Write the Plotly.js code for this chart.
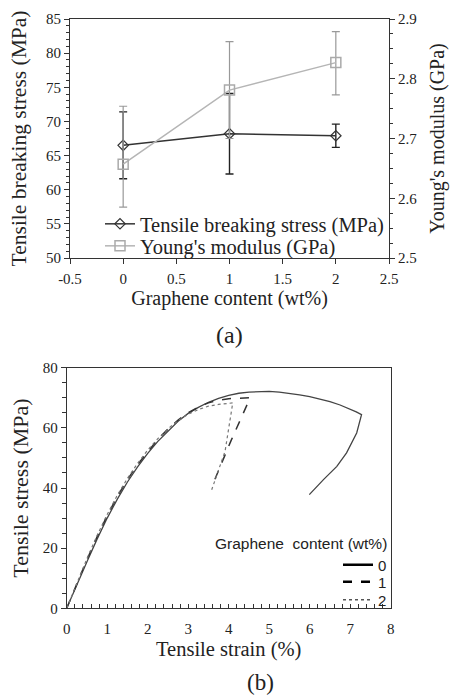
<!DOCTYPE html>
<html>
<head>
<meta charset="utf-8">
<script src="https://cdn.plot.ly/plotly-3.0.1.min.js"></script>
<style>html,body{margin:0;padding:0;background:#fff;}#chart{width:450px;height:696px;}</style>
</head>
<body>
<div id="chart"></div>
<script>
// ---- (a) data ----
const content = [0, 1, 2];
const contentTicks = [-0.5, 0, 0.5, 1, 1.5, 2, 2.5];
const contentTickLabels = ['-0.5', '0', '0.5', '1', '1.5', '2', '2.5'];
const breakingStress = [66.5, 68.2, 67.9];
const breakingStressErr = [4.9, 5.9, 1.7];
const youngsModulus = [2.657, 2.781, 2.827];
const youngsModulusErrPlus = [0.097, 0.081, 0.052];
const youngsModulusErrMinus = [0.072, 0.081, 0.054];

// ---- (b) data ----
const strain0 = [0,0.25,0.5,0.75,1,1.25,1.5,1.75,2,2.25,2.5,2.75,3,3.25,3.5,3.75,4,4.25,4.5,4.75,5,5.25,5.5,5.75,6,6.25,6.5,6.75,7,7.15,7.28,7.16,6.91,6.67,6.34,5.99];
const stress0 = [0,8,15.5,23,30,36.3,42,47,51.5,55.5,59,62.2,64.8,66.8,68.5,69.8,70.8,71.5,71.9,72.1,72.1,71.9,71.5,71,70.4,69.6,68.7,67.6,66.3,65.3,64.4,58.3,51.7,47.2,42.8,37.8];
const strain1 = [0,0.25,0.5,0.75,1,1.25,1.5,1.75,2,2.25,2.5,2.75,3,3.25,3.5,3.75,4,4.25,4.53,4.05,3.6];
const stress1 = [0,8.3,16.2,23.8,30.8,37.2,42.8,47.8,52.2,56.2,59.6,62.6,65,66.9,68.3,69.2,69.7,69.9,70,55.5,41];
const strain2 = [0,0.25,0.5,0.75,1,1.25,1.5,1.75,2,2.25,2.5,2.75,3,3.25,3.5,3.75,4.1,3.91,3.58];
const stress2 = [0,8.5,16.5,24.2,31.2,37.6,43.2,48.2,52.6,56.4,59.7,62.4,64.5,66.1,67.2,67.8,68.3,52.2,39.4];
const legendLabels = ['0', '1', '2'];

const serif = 'Liberation Serif';
const sans = 'Liberation Sans';
const axisColor = '#333';
const txt = '#222';

const traces = [
  {x: content, y: youngsModulus, yaxis: 'y2', xaxis: 'x', type: 'scatter', mode: 'lines+markers',
   name: "Young's modulus (GPa)", legend: 'legend3',
   line: {color: '#b5b5b5', width: 1.5},
   marker: {symbol: 'square-open', size: 10, color: '#aaaaaa', line: {width: 1.5}},
   error_y: {type: 'data', symmetric: false, array: youngsModulusErrPlus, arrayminus: youngsModulusErrMinus,
             color: '#999', thickness: 1.2, width: 4}},
  {x: content, y: breakingStress, xaxis: 'x', yaxis: 'y', type: 'scatter', mode: 'lines+markers',
   name: 'Tensile breaking stress (MPa)', legend: 'legend',
   line: {color: '#333', width: 1.5},
   marker: {symbol: 'diamond-open', size: 8, color: '#333', line: {width: 1.2}},
   error_y: {type: 'data', array: breakingStressErr, color: '#222', thickness: 1.4, width: 4}},
  {x: strain0, y: stress0, xaxis: 'x2', yaxis: 'y3', type: 'scatter', mode: 'lines', showlegend: false,
   line: {color: '#444', width: 1.3}},
  {x: strain1, y: stress1, xaxis: 'x2', yaxis: 'y3', type: 'scatter', mode: 'lines', showlegend: false,
   line: {color: '#333', width: 1.5, dash: 'dash'}},
  {x: strain2, y: stress2, xaxis: 'x2', yaxis: 'y3', type: 'scatter', mode: 'lines', showlegend: false,
   line: {color: '#777', width: 1.2, dash: 'dot'}},
  {x: [null], y: [null], xaxis: 'x2', yaxis: 'y3', type: 'scatter', mode: 'lines', name: legendLabels[0], legend: 'legend2',
   line: {color: '#000', width: 2.5}},
  {x: [null], y: [null], xaxis: 'x2', yaxis: 'y3', type: 'scatter', mode: 'lines', name: legendLabels[1], legend: 'legend4',
   line: {color: '#000', width: 2.5, dash: 'dash'}},
  {x: [null], y: [null], xaxis: 'x2', yaxis: 'y3', type: 'scatter', mode: 'lines', name: legendLabels[2], legend: 'legend5',
   line: {color: '#555', width: 1.5, dash: 'dot'}}
];

const W = 450, H = 696;
const px = v => v / W;
const py = v => 1 - v / H;

function leg(x, y, anchor, font) {
  return {x: px(x), y: py(y), xanchor: anchor, yanchor: 'middle', bgcolor: 'rgba(0,0,0,0)',
          font: font, borderwidth: 0, itemwidth: 30};
}
const topLegFont = {family: serif, size: 20.5, color: txt};
const botLegFont = {family: sans, size: 15, color: txt};

const layout = {
  width: W, height: H,
  margin: {l: 0, r: 0, t: 0, b: 0},
  paper_bgcolor: '#fff', plot_bgcolor: '#fff',
  font: {family: serif, color: txt},
  xaxis: {domain: [px(70), px(389)], anchor: 'y', range: [-0.5, 2.5],
    tickmode: 'array', tickvals: contentTicks, ticktext: contentTickLabels,
    showgrid: false, zeroline: false, showline: true, linecolor: axisColor, linewidth: 1, mirror: true,
    ticks: 'outside', ticklen: 5, tickcolor: axisColor, ticklabelstandoff: 2,
    tickfont: {family: serif, size: 15, color: txt},
    title: {text: 'Graphene content (wt%)', font: {family: serif, size: 20, color: txt}, standoff: 4}},
  yaxis: {domain: [py(258), py(19)], anchor: 'x', range: [50, 85], dtick: 5,
    showgrid: false, zeroline: false, showline: true, linecolor: axisColor, linewidth: 1,
    ticks: 'outside', ticklen: 5, tickcolor: axisColor, tickfont: {family: serif, size: 15, color: txt},
    minor: {dtick: 1, ticks: 'outside', ticklen: 3, tickcolor: axisColor},
    title: {text: 'Tensile breaking stress (MPa)', font: {family: serif, size: 21.5, color: txt}, standoff: 13}},
  yaxis2: {overlaying: 'y', side: 'right', anchor: 'x', range: [2.5, 2.9], dtick: 0.1, tickformat: '.1f',
    showgrid: false, zeroline: false, showline: true, linecolor: axisColor, linewidth: 1,
    ticks: 'outside', ticklen: 5, tickcolor: axisColor, tickfont: {family: serif, size: 15, color: txt},
    minor: {dtick: 0.025, ticks: 'outside', ticklen: 3, tickcolor: axisColor},
    title: {text: "Young's modulus (GPa)", font: {family: serif, size: 20, color: txt}, standoff: 13}},
  xaxis2: {domain: [px(66.7), px(390.7)], anchor: 'y3', range: [0, 8], dtick: 1,
    showgrid: false, zeroline: false, showline: true, linecolor: axisColor, linewidth: 1, mirror: true,
    ticks: 'inside', ticklen: 4, tickcolor: axisColor, ticklabelstandoff: 7,
    tickfont: {family: serif, size: 15, color: txt},
    minor: {dtick: 0.2, ticks: 'inside', ticklen: 4, tickcolor: axisColor},
    title: {text: 'Tensile strain (%)', font: {family: serif, size: 20.5, color: txt}, standoff: 5}},
  yaxis3: {domain: [py(608.3), py(367.7)], anchor: 'x2', range: [0, 80], dtick: 20,
    showgrid: false, zeroline: false, showline: true, linecolor: axisColor, linewidth: 1, mirror: true,
    ticks: 'outside', ticklen: 5, tickcolor: axisColor, tickfont: {family: serif, size: 15, color: txt},
    minor: {dtick: 5, ticks: 'outside', ticklen: 4, tickcolor: axisColor},
    title: {text: 'Tensile stress (MPa)', font: {family: serif, size: 22, color: txt}, standoff: 8}},
  legend: leg(100, 224, 'left', topLegFont),
  legend3: leg(100, 246, 'left', topLegFont),
  legend2: leg(392, 565, 'right', botLegFont),
  legend4: leg(392, 582, 'right', botLegFont),
  legend5: leg(392, 600, 'right', botLegFont),
  showlegend: true,
  annotations: [
    {text: 'Graphene  content (wt%)', xref: 'paper', yref: 'paper', x: px(389), y: py(543),
     xanchor: 'right', yanchor: 'middle', showarrow: false, font: {family: sans, size: 15.5, color: txt}},
    {text: '(a)', xref: 'paper', yref: 'paper', x: px(230), y: py(335), xanchor: 'center', yanchor: 'middle',
     showarrow: false, font: {family: serif, size: 24, color: txt}},
    {text: '(b)', xref: 'paper', yref: 'paper', x: px(260), y: 0, xanchor: 'center', yanchor: 'bottom',
     borderpad: 0, showarrow: false, font: {family: serif, size: 23, color: txt}}
  ]
};

Plotly.newPlot('chart', traces, layout, {displayModeBar: false, staticPlot: true});
</script>
</body>
</html>
